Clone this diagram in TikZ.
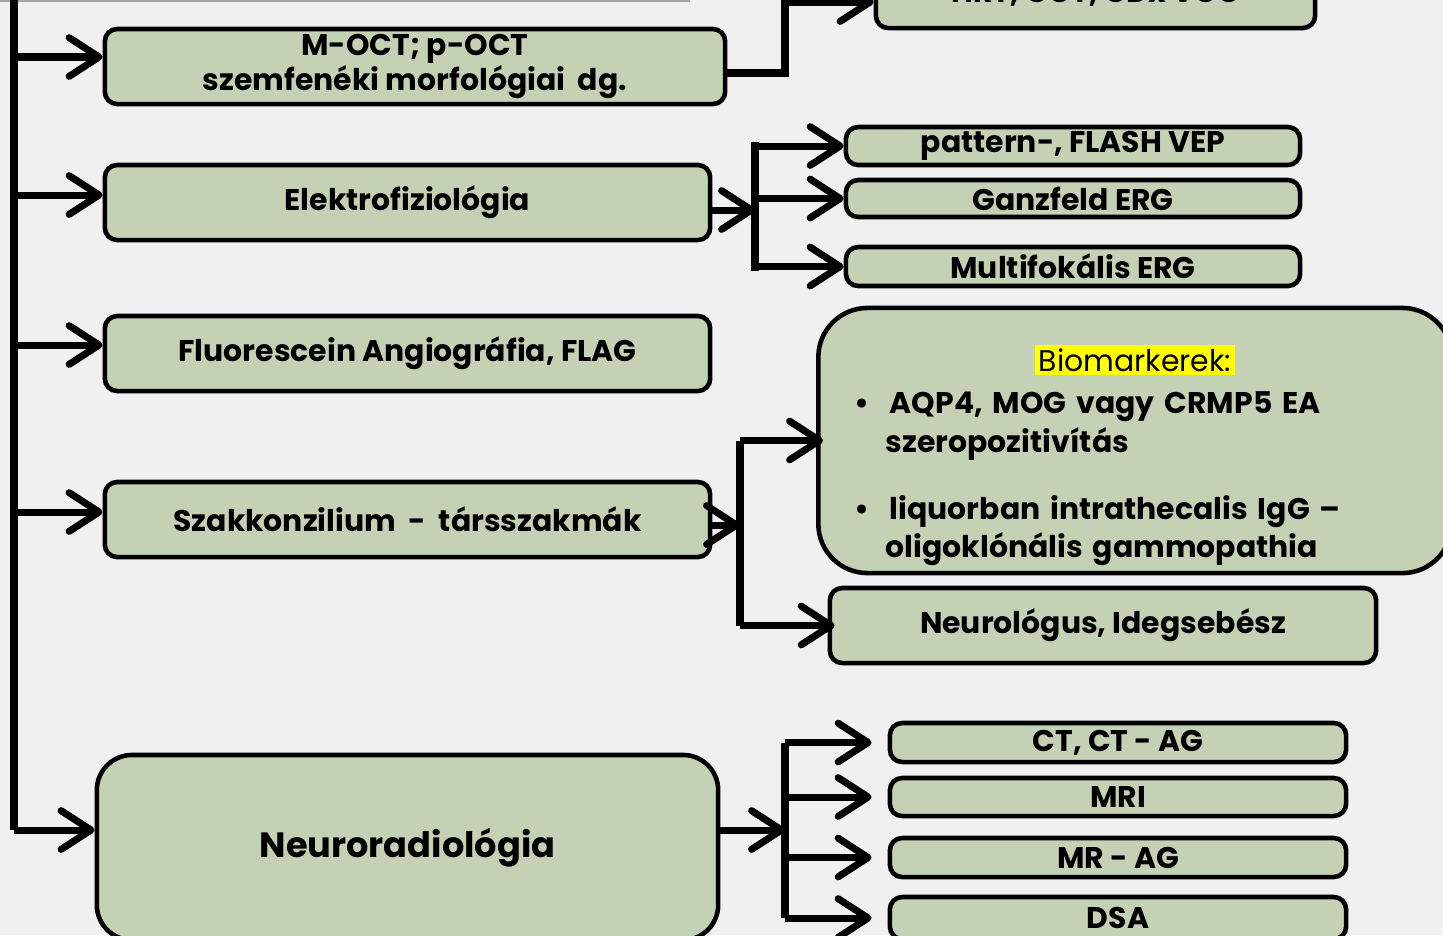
\documentclass[tikz,border=0pt]{standalone}
\usepackage{fontspec}
\setmainfont{Poppins}
\usepackage{tikz}
\usetikzlibrary{arrows.meta,positioning,calc}
\usepackage{xcolor}
\definecolor{boxgreen}{RGB}{197,209,181}
\definecolor{pagebg}{RGB}{240,240,240}
\definecolor{rulegray}{RGB}{165,165,165}
\definecolor{markyellow}{RGB}{255,255,0}

\begin{document}
\begin{tikzpicture}[
    x=0.01cm, y=-0.01cm,
    box/.style={rectangle, draw, line width=1.3pt, rounded corners=3.5pt, fill=boxgreen,
                inner sep=0pt, align=center, font=\fontsize{8.5}{10}\selectfont\bfseries},
    bigbox/.style={box, rounded corners=10pt, font=\fontsize{10}{12}\selectfont\bfseries},
    arrow/.style={-{Straight Barb[length=8.5pt,width=11pt,round]}, line width=2pt},
    line/.style={line width=2pt}
]
% page and frame
\fill[pagebg] (0,0) rectangle (1443,935);
\useasboundingbox (0,0) rectangle (1443,935);
\draw[rulegray, line width=0.6pt] (0,1) -- (690,1);

% left column
\node[box, minimum width=6.2cm, minimum height=0.75cm] (moct) at (415,66.5)
    {M-OCT; p-OCT\\szemfenéki morfológiai\ \ dg.};
\node[box, minimum width=6.05cm, minimum height=0.75cm] (elektro) at (407.5,202.5) {Elektrofiziológia};
\node[box, minimum width=6.05cm, minimum height=0.75cm] (flag) at (407.5,353.5) {Fluorescein Angiográfia, FLAG};
\node[box, minimum width=6.05cm, minimum height=0.75cm] (szak) at (407.5,519.5) {Szakkonzilium\ \ -\ \ társszakmák};
\node[bigbox, minimum width=6.21cm, minimum height=1.85cm] (neurorad) at (407.5,847.5) {Neuroradiológia};

% right column
\node[box, minimum width=4.39cm, minimum height=0.76cm] (hrt) at (1095.5,-10) {};
\node[font=\fontsize{8.5}{10}\selectfont\bfseries, inner sep=0pt] (hrttext) at (1095.5,-6) {HRT, OCT, GDx VCC};
\node[box, minimum width=4.54cm, minimum height=0.38cm] (vep) at (1073,146) {pattern-, FLASH VEP};
\node[box, minimum width=4.54cm, minimum height=0.37cm] (gerg) at (1073,198.5) {Ganzfeld ERG};
\node[box, minimum width=4.54cm, minimum height=0.39cm] (merg) at (1073,266.5) {Multifokális ERG};
\node[box, rounded corners=14pt, minimum width=6.33cm, minimum height=2.65cm] (bio) at (1135,440.5) {};
\node[font=\fontsize{8.5}{11}\selectfont\bfseries, text width=5.6cm, align=left, inner sep=0pt]
    (biotext) at ($(bio.center)+(0,15)$)
    {\makebox[5.6cm]{\fboxsep=1pt\colorbox{markyellow}{\mdseries Biomarkerek:}}\\[1pt]
     \textbullet\hspace{0.2cm}AQP4, MOG vagy CRMP5 EA\\
     \hspace*{0.31cm}szeropozitivítás\\[8pt]
     \textbullet\hspace{0.2cm}liquorban intrathecalis IgG --\\
     \hspace*{0.31cm}oligoklónális gammopathia};
\node[box, minimum width=5.46cm, minimum height=0.75cm] (neuro) at (1103,625.5) {Neurológus, Idegsebész};
\node[box, minimum width=4.56cm, minimum height=0.39cm] (ct) at (1118,742.5) {CT, CT\ -\ AG};
\node[box, minimum width=4.56cm, minimum height=0.38cm] (mri) at (1118,797) {MRI};
\node[box, minimum width=4.56cm, minimum height=0.39cm] (mrag) at (1118,857.5) {MR\ -\ AG};
\node[box, minimum width=4.56cm, minimum height=0.42cm] (dsa) at (1118,918) {DSA};

% main trunk
\coordinate (trunk) at (14,-5);
\coordinate (j1) at (14,57);
\coordinate (j2) at (14,195);
\coordinate (j3) at (14,345);
\coordinate (j4) at (14,512);
\coordinate (j5) at (14,830);
\draw[line] (trunk) -- (j5);
\foreach \j/\b in {j1/moct, j2/elektro, j3/flag, j4/szak, j5/neurorad} {
  \draw[arrow] (\j) -- (\j -| \b.west);
}

% M-OCT -> HRT
\coordinate (k1) at (785,73);
\coordinate (k2) at (785,2);
\draw[arrow] (k1 -| moct.east) -- (k1) -- (k2) -- (k2 -| hrt.west);

% electrophysiology branch
\coordinate (e0) at (755,210);
\draw[arrow] (e0 -| elektro.east) -- (e0);
\draw[line] (755,142) -- (755,271);
\foreach \b in {vep, gerg, merg} {
  \draw[arrow] (e0 |- \b.west) -- (\b.west);
}

% consultation branch
\coordinate (s0) at (740,525);
\draw[arrow] (s0 -| szak.east) -- (s0);
\draw[line] (s0 |- bio.west) -- (s0 |- neuro.west);
\foreach \b in {bio, neuro} {
  \draw[arrow] (s0 |- \b.west) -- ([xshift=2pt]\b.west);
}

% neuroradiology branch
\coordinate (n0) at (785,830);
\draw[arrow] (n0 -| neurorad.east) -- (n0);
\draw[line] (n0 |- ct.west) -- (n0 |- dsa.west);
\foreach \b in {ct, mri, mrag, dsa} {
  \draw[arrow, shorten >=0.16cm] (n0 |- \b.west) -- (\b.west);
}
\end{tikzpicture}
\end{document}
